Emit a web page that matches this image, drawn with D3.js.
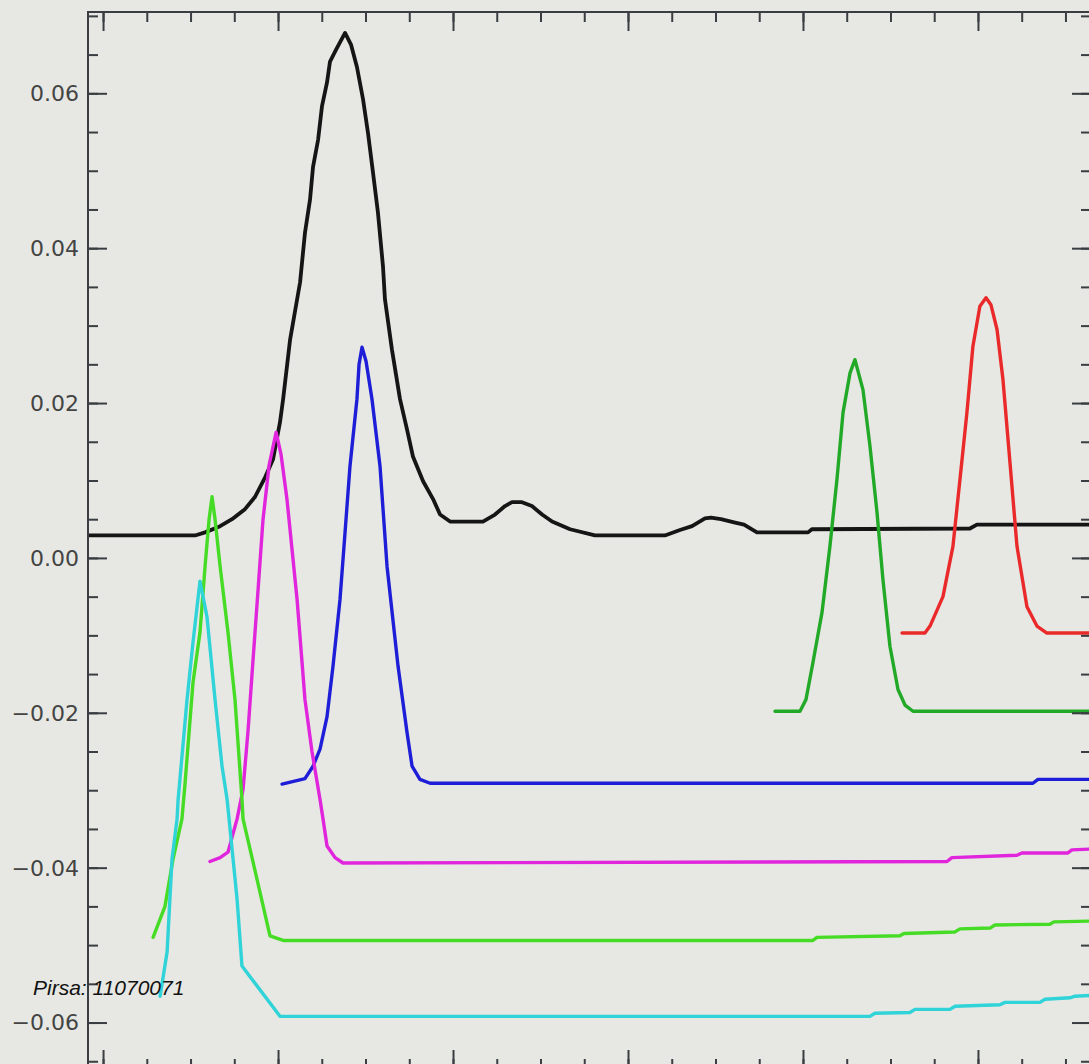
<!DOCTYPE html>
<html>
<head>
<meta charset="utf-8">
<script src="https://cdn.jsdelivr.net/npm/d3@7"></script>
<style>
    html, body {margin: 0; padding: 0; background: #e7e8e3;}
    svg {display: block;}
    .axis path {display: none;}
    .axis line {stroke: #3a3e42; stroke-width: 2px;}
    .label {font-family: "DejaVu Sans", Arial, sans-serif; font-size: 22px; fill: #444;}
    .curve {fill: none; stroke-width: 3.4px; stroke-linejoin: round; stroke-linecap: round;}
</style>
</head>
<body>
<svg id="chart"></svg>
<script>
// values, x in channel units, y in signal units
const blackCurve = [[-8.6,0.0029],[52.6,0.0029],[58.3,0.0033],[66.9,0.0041],[73.7,0.0050],[81.1,0.0063],[86.9,0.0079],[92.6,0.0104],
    [97.1,0.0127],[101.1,0.0175],[102.9,0.0205],[106.9,0.0282],[112.6,0.0356],[115.4,0.0420],[118.3,0.0463],[120,0.0505],
    [122.9,0.0540],[125.1,0.0583],[128,0.0614],[129.7,0.0641],[133.1,0.0656],[138.3,0.0678],[141.7,0.0663],[145.1,0.0634],
    [148.6,0.0592],[151.4,0.0549],[154.3,0.0497],[157.1,0.0446],[160,0.0376],[161.1,0.0334],[165.1,0.0269],[169.7,0.0205],
    [173.7,0.0166],[177.1,0.0131],[182.9,0.0099],[188.6,0.0076],[192.6,0.0056],[198.3,0.0047],[217.1,0.0047],[224,0.0056],
    [229.7,0.0067],[233.7,0.0072],[239.4,0.0072],[245.1,0.0067],[250.9,0.0056],[256.6,0.0047],[266.9,0.0037],[281.1,0.0029],
    [321.1,0.0029],[329.7,0.0036],[336.6,0.0041],[344,0.0051],[347.4,0.0052],[353.1,0.0050],[360.6,0.0046],[366.3,0.0043],
    [373.7,0.0033],[402.9,0.0033],[405.1,0.0037],[495.4,0.0038],[499.4,0.0043],[564.6,0.0043]];
const redCurve = [[456.6,-0.0097],[469.7,-0.0097],[472.6,-0.0088],[480,-0.0050],[485.7,0.0015],[489.7,0.0101],[493.7,0.0188],
    [497.1,0.0273],[501.1,0.0325],[504.6,0.0336],[507.4,0.0327],[510.9,0.0295],[514.3,0.0230],[518.3,0.0123],[522.3,0.0015],
    [528,-0.0063],[533.7,-0.0088],[539.4,-0.0097],[564.6,-0.0097]];
const greenCurve = [[384,-0.0198],[398.3,-0.0198],[401.7,-0.0183],[405.7,-0.0135],[410.9,-0.0070],[415.4,0.0015],[419.4,0.0101],
    [422.9,0.0188],[426.9,0.0239],[429.7,0.0256],[434.3,0.0217],[438.3,0.0144],[442.3,0.0059],[445.7,-0.0028],[449.7,-0.0114],
    [454.3,-0.0170],[458.3,-0.0190],[462.9,-0.0198],[564.6,-0.0198]];
const blueCurve = [[102.3,-0.0292],[115.4,-0.0285],[120,-0.0269],[124,-0.0247],[128,-0.0205],[131.4,-0.0140],[135.4,-0.0054],
    [138.3,0.0033],[141.1,0.0118],[145.1,0.0205],[146.3,0.0250],[148,0.0272],[150.3,0.0254],[153.7,0.0205],[158.3,0.0118],
    [162.3,-0.0011],[168.6,-0.0140],[173.7,-0.0225],[176.6,-0.0269],[181.1,-0.0286],[186.9,-0.0291],[531.4,-0.0291],
    [534.3,-0.0286],[564.6,-0.0286]];
const magentaCurve = [[61.1,-0.0392],[66.9,-0.0387],[71.4,-0.0380],[76.6,-0.0337],[80,-0.0299],[82.9,-0.0222],[85.7,-0.0132],
    [88.6,-0.0041],[91.4,0.0049],[94.9,0.0120],[98.9,0.0162],[101.7,0.0134],[105.1,0.0076],[110.9,-0.0054],[115.4,-0.0183],
    [119.4,-0.0250],[124,-0.0312],[125.7,-0.0337],[128,-0.0372],[132.6,-0.0387],[137.1,-0.0394],[482.3,-0.0392],
    [485.1,-0.0387],[522.3,-0.0384],[525.1,-0.0381],[551.4,-0.0381],[553.7,-0.0377],[564.6,-0.0376]];
const limeCurve = [[28.6,-0.0490],[35.4,-0.0450],[40,-0.0389],[45.1,-0.0337],[46.9,-0.0290],[51.4,-0.0161],[55.4,-0.0096],
    [58.3,-0.0011],[60.6,0.0050],[62.3,0.0079],[64,0.0050],[66.9,-0.0011],[71.4,-0.0096],[75.4,-0.0183],[79.4,-0.0312],
    [80,-0.0337],[88,-0.0415],[95.4,-0.0488],[102.9,-0.0494],[405.7,-0.0494],[408,-0.0490],[455.4,-0.0488],[457.7,-0.0485],
    [486.9,-0.0483],[489.7,-0.0479],[506.9,-0.0478],[509.7,-0.0474],[541.1,-0.0473],[543.4,-0.0470],[564.6,-0.0469]];
const cyanCurve = [[32.6,-0.0566],[36.6,-0.0509],[39.4,-0.0389],[42.3,-0.0337],[42.9,-0.0312],[48,-0.0183],[51.4,-0.0109],
    [55.4,-0.0030],[59.4,-0.0076],[64,-0.0183],[68,-0.0269],[70.9,-0.0312],[76.6,-0.0441],[79.4,-0.0527],[101.1,-0.0592],
    [438.3,-0.0592],[441.1,-0.0588],[461.1,-0.0587],[464,-0.0583],[484,-0.0583],[486.9,-0.0579],[512.6,-0.0577],
    [515.4,-0.0574],[535.4,-0.0574],[538.3,-0.0570],[552.6,-0.0568],[555.4,-0.0566],[564.6,-0.0565]];

const seriesNames = ['black', 'red', 'green', 'blue', 'magenta', 'lime', 'cyan'];
const seriesValues = [blackCurve, redCurve, greenCurve, blueCurve, magentaCurve, limeCurve, cyanCurve];

const yTickValues = [-0.06, -0.04, -0.02, 0, 0.02, 0.04, 0.06];
const yTickLabels = ['\u22120.06', '\u22120.04', '\u22120.02', '0.00', '0.02', '0.04', '0.06'];
const xTickValues = [0, 100, 200, 300, 400, 500];

let graphicopt = {
    width: 1089,
    height: 1064,
    plot: {left: 88, right: 1091, top: 12, bottom: 1069},
    xDomain: [-8.6, 564.6],
    yDomain: [-0.066, 0.0705],
    majorTick: 19,
    minorTick: 10,
    colors: {black: '#151515', red: '#ea2a2a', green: '#22a928', blue: '#1e1ed8',
        magenta: '#e025dc', lime: '#46dc26', cyan: '#30d3d8'}
};

const svg = d3.select('#chart')
    .attr('width', graphicopt.width)
    .attr('height', graphicopt.height);

const x = d3.scaleLinear().domain(graphicopt.xDomain).range([graphicopt.plot.left, graphicopt.plot.right]);
const y = d3.scaleLinear().domain(graphicopt.yDomain).range([graphicopt.plot.bottom, graphicopt.plot.top]);

svg.append('rect')
    .attr('width', graphicopt.width).attr('height', graphicopt.height)
    .attr('fill', '#e7e8e3');

svg.append('clipPath').attr('id', 'plotclip')
    .append('rect')
    .attr('x', graphicopt.plot.left).attr('y', graphicopt.plot.top)
    .attr('width', graphicopt.plot.right - graphicopt.plot.left)
    .attr('height', graphicopt.plot.bottom - graphicopt.plot.top);

// curves
const line = d3.line().x(d => x(d[0])).y(d => y(d[1]));
svg.append('g').attr('clip-path', 'url(#plotclip)')
    .selectAll('.curve')
    .data(seriesValues)
    .enter().append('path')
    .attr('class', 'curve')
    .attr('stroke', (d, i) => graphicopt.colors[seriesNames[i]])
    .style('stroke-width', (d, i) => seriesNames[i] === 'black' ? '3.8px' : null)
    .attr('d', line);

// minor ticks every quarter of a major step
const yMinor = d3.range(-0.065, 0.0705, 0.005).map(v => +v.toFixed(3));
const xMinor = d3.range(0, 565, 25);

function tickAxis(axisFn, scale, values, size, transform) {
    svg.append('g').attr('class', 'axis').attr('transform', transform)
        .call(axisFn(scale).tickValues(values).tickSize(size).tickFormat(''));
}
// left / right
tickAxis(d3.axisRight, y, yMinor, graphicopt.minorTick, `translate(${graphicopt.plot.left},0)`);
tickAxis(d3.axisRight, y, yTickValues, graphicopt.majorTick, `translate(${graphicopt.plot.left},0)`);
tickAxis(d3.axisLeft, y, yMinor, graphicopt.minorTick, `translate(${graphicopt.plot.right},0)`);
tickAxis(d3.axisLeft, y, yTickValues, graphicopt.majorTick, `translate(${graphicopt.plot.right},0)`);
// top / bottom
tickAxis(d3.axisBottom, x, xMinor, graphicopt.minorTick, `translate(0,${graphicopt.plot.top})`);
tickAxis(d3.axisBottom, x, xTickValues, graphicopt.majorTick, `translate(0,${graphicopt.plot.top})`);
tickAxis(d3.axisTop, x, xMinor, graphicopt.minorTick, `translate(0,${graphicopt.plot.bottom})`);
tickAxis(d3.axisTop, x, xTickValues, graphicopt.majorTick, `translate(0,${graphicopt.plot.bottom})`);

// frame
svg.append('rect')
    .attr('x', graphicopt.plot.left).attr('y', graphicopt.plot.top)
    .attr('width', graphicopt.plot.right - graphicopt.plot.left)
    .attr('height', graphicopt.plot.bottom - graphicopt.plot.top)
    .attr('fill', 'none')
    .attr('stroke', '#3a3e42')
    .attr('stroke-width', 2);

// y labels
svg.append('g')
    .selectAll('.label')
    .data(yTickValues)
    .enter().append('text')
    .attr('class', 'label')
    .attr('x', graphicopt.plot.left - 9)
    .attr('y', d => y(d))
    .attr('dy', '0.36em')
    .style('text-anchor', 'end')
    .text((d, i) => yTickLabels[i]);

svg.append('text')
    .attr('x', 33).attr('y', 995)
    .style('font-family', 'Liberation Sans, Arial, sans-serif')
    .style('font-style', 'italic')
    .style('font-size', '21px')
    .style('fill', '#111')
    .text('Pirsa: 11070071');
</script>
</body>
</html>
